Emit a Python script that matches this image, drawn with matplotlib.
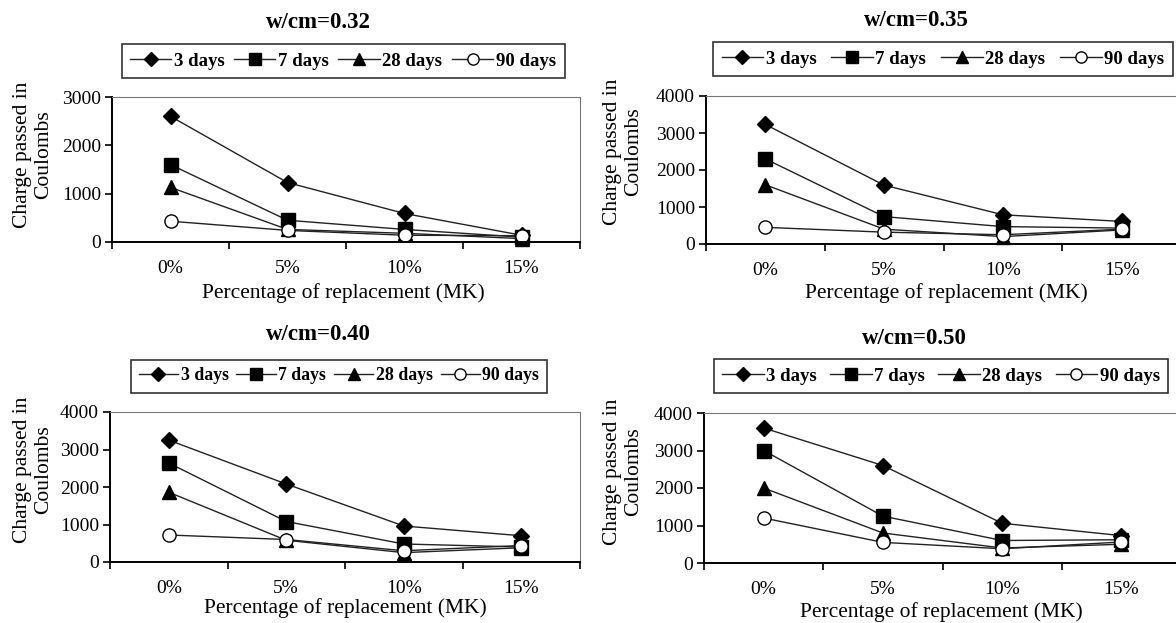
import numpy as np
import matplotlib
matplotlib.use("Agg")
import matplotlib.pyplot as plt

# data (charge passed, coulombs)
categories = ["0%", "5%", "10%", "15%"]
ages = ["3 days", "7 days", "28 days", "90 days"]

wcm032_3d = [2600, 1230, 590, 140]
wcm032_7d = [1600, 450, 260, 100]
wcm032_28d = [1130, 260, 180, 70]
wcm032_90d = [430, 240, 140, 130]

wcm035_3d = [3230, 1590, 790, 610]
wcm035_7d = [2300, 740, 470, 430]
wcm035_28d = [1600, 400, 200, 380]
wcm035_90d = [450, 320, 250, 400]

wcm040_3d = [3250, 2080, 960, 700]
wcm040_7d = [2640, 1080, 480, 400]
wcm040_28d = [1860, 580, 250, 380]
wcm040_90d = [720, 600, 300, 440]

wcm050_3d = [3600, 2600, 1060, 730]
wcm050_7d = [3000, 1250, 600, 620]
wcm050_28d = [2000, 800, 400, 500]
wcm050_90d = [1200, 550, 380, 560]

titles = ["w/cm=0.32", "w/cm=0.35", "w/cm=0.40", "w/cm=0.50"]
ymaxes = [3000, 4000, 4000, 4000]

panels_data = [
    [wcm032_3d, wcm032_7d, wcm032_28d, wcm032_90d],
    [wcm035_3d, wcm035_7d, wcm035_28d, wcm035_90d],
    [wcm040_3d, wcm040_7d, wcm040_28d, wcm040_90d],
    [wcm050_3d, wcm050_7d, wcm050_28d, wcm050_90d],
]

W, H = 1176, 623
plt.rcParams["font.family"] = ["Liberation Serif", "DejaVu Serif"]

def fx(px):
    return px / W

def fy(py):
    return 1 - py / H

# layout in pixels: axes box, title, legend centre, ylabel centre, xlabel centre
layout = [
    dict(box=(112, 580, 97, 242), title=(318, 22), leg=(343, 61), ylab=(33, 155), xlab=(343, 293), legfs=13.5, colsp=0.5),
    dict(box=(706, 1181, 96, 244), title=(916, 20), leg=(943, 59), ylab=(623, 152), xlab=(946, 293), legfs=13.5, colsp=0.8),
    dict(box=(110, 580, 412, 562), title=(318, 335), leg=(339, 376), ylab=(33, 470), xlab=(345, 608), legfs=12.8, colsp=0.45),
    dict(box=(704, 1181, 413, 563), title=(914, 338), leg=(941, 376), ylab=(623, 472), xlab=(941, 612), legfs=13.5, colsp=0.7),
]

styles = [
    dict(marker="D", ms=8, mfc="black"),
    dict(marker="s", ms=9.5, mfc="black"),
    dict(marker="^", ms=10, mfc="black"),
    dict(marker="o", ms=9.5, mfc="white"),
]

fig = plt.figure(figsize=(W / 100, H / 100), dpi=100)

x = np.arange(len(categories))
for data, title, ymax, lay in zip(panels_data, titles, ymaxes, layout):
    l, r, t, b = lay["box"]
    ax = fig.add_axes([fx(l), fy(b), (r - l) / W, (b - t) / H])
    handles = []
    for series, label, st in zip(data, ages, styles):
        ln, = ax.plot(x, series, color="#222222", lw=1.0, marker=st["marker"],
                      ms=st["ms"], mfc=st["mfc"], mec="black", mew=1.0,
                      label=label, clip_on=False)
        handles.append(ln)

    ax.set_xlim(-0.5, 3.5)
    ax.set_ylim(0, ymax)
    ax.set_yticks(np.arange(0, ymax + 1, 1000))
    ax.set_xticks(np.arange(-0.5, 4, 1))
    ax.set_xticklabels([])
    ax.set_xticks(x, minor=True)
    ax.set_xticklabels(categories, minor=True)
    ax.tick_params(axis="x", which="major", direction="out", length=5, width=1.2)
    ax.tick_params(axis="x", which="minor", length=0, pad=13, labelsize=14)
    ax.tick_params(axis="y", direction="out", length=5, width=1.2, pad=3, labelsize=14)
    for side in ["left", "bottom"]:
        ax.spines[side].set_linewidth(1.4)
        ax.spines[side].set_color("black")
    for side in ["top", "right"]:
        ax.spines[side].set_linewidth(0.8)
        ax.spines[side].set_color("#777777")

    fig.text(fx(lay["title"][0]), fy(lay["title"][1]), title, ha="center", va="center",
             fontsize=16.5, fontweight="bold")
    fig.text(fx(lay["xlab"][0]), fy(lay["xlab"][1]), "Percentage of replacement (MK)",
             ha="center", va="center", fontsize=15.5)
    fig.text(fx(lay["ylab"][0]), fy(lay["ylab"][1]), "Charge passed in\nCoulombs",
             ha="center", va="center", rotation=90, fontsize=15.5, linespacing=1.1)

    leg = ax.legend(handles=handles, loc="center", bbox_to_anchor=(fx(lay["leg"][0]), fy(lay["leg"][1])),
                    bbox_transform=fig.transFigure, ncol=4, frameon=True, fancybox=False,
                    edgecolor="black", handlelength=2.2, handletextpad=0.15,
                    columnspacing=lay["colsp"], markerscale=0.85, borderpad=0.45,
                    prop=dict(weight="bold", size=lay["legfs"]))
    leg.get_frame().set_linewidth(1.2)

fig.savefig("out.png", dpi=100)
